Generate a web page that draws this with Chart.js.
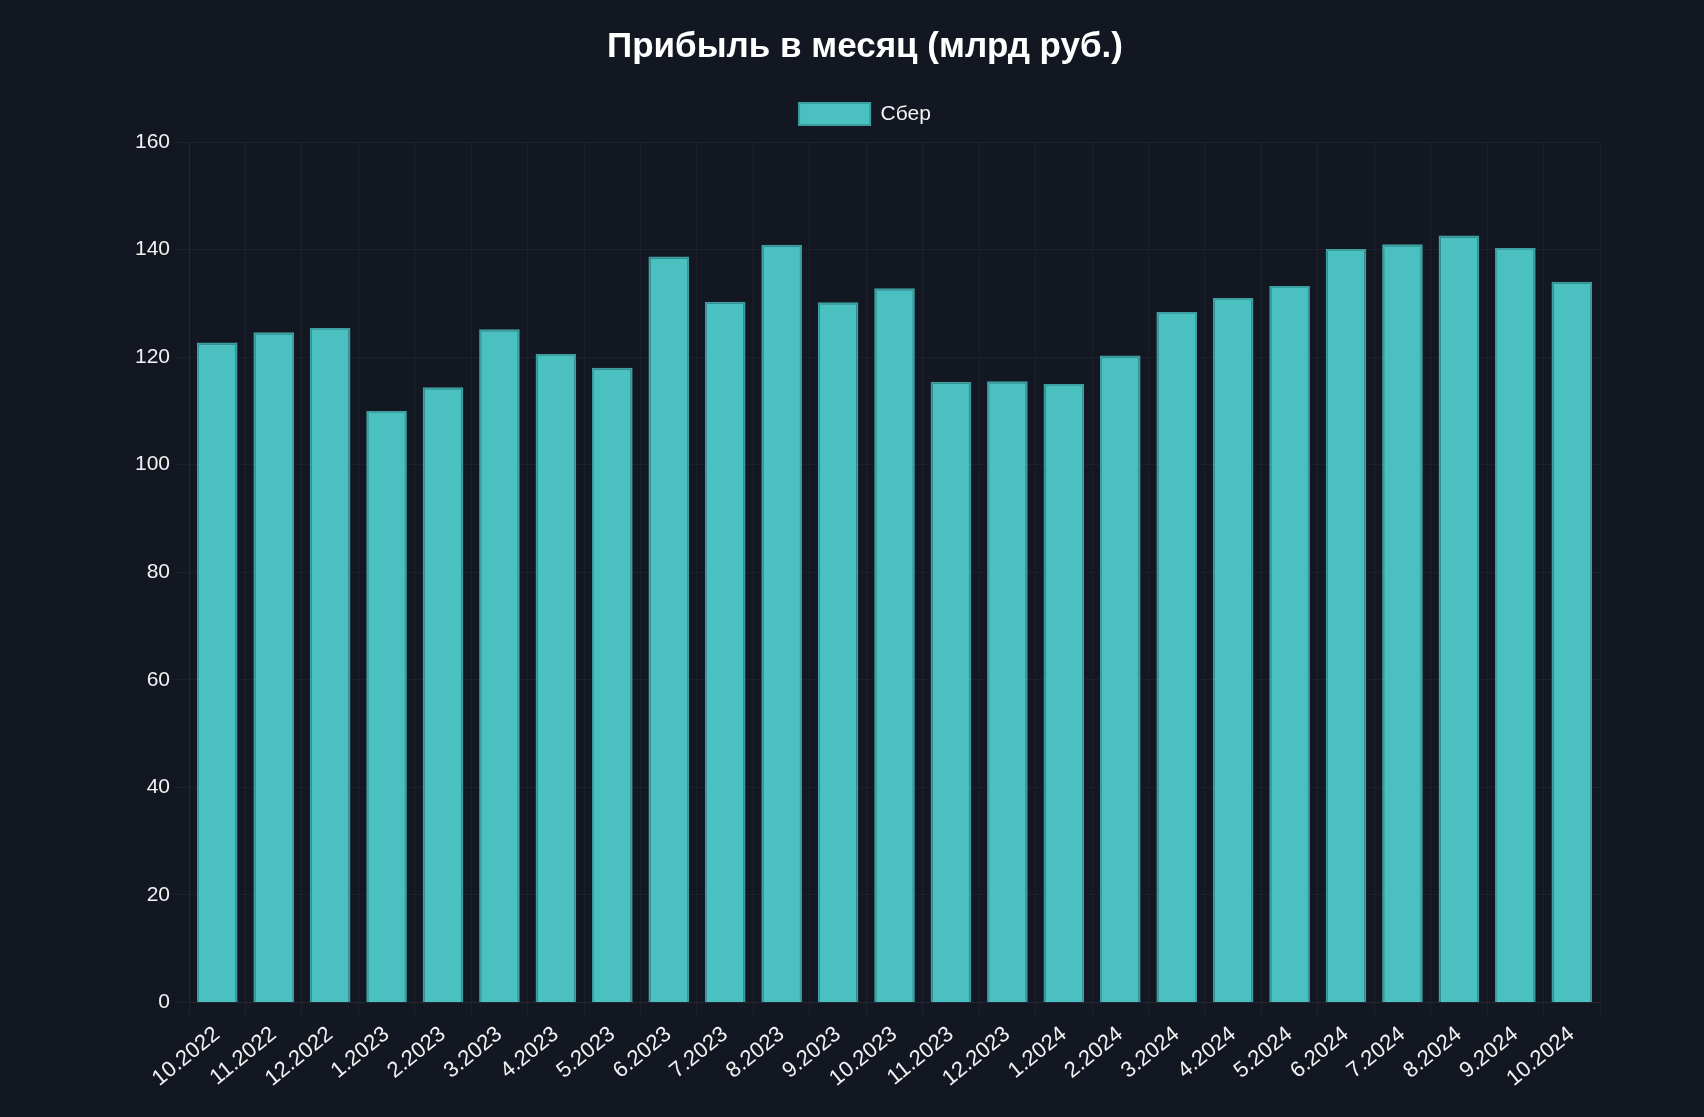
<!DOCTYPE html>
<html lang="ru">
<head>
<meta charset="UTF-8">
<title>Прибыль в месяц</title>
<script src="https://cdn.jsdelivr.net/npm/chart.js@4.4.1/dist/chart.umd.min.js"></script>
<style>
    html, body {
        margin: 0;
        padding: 0;
        background: #131722;
        overflow: hidden;
    }
    #wrap {
        width: 1704px;
        height: 1117px;
    }
</style>
</head>
<body>
<div id="wrap"><canvas id="profitChart"></canvas></div>
<script>
// Months (x axis)
const months = [
    "10.2022", "11.2022", "12.2022", "1.2023", "2.2023", "3.2023", "4.2023",
    "5.2023", "6.2023", "7.2023", "8.2023", "9.2023", "10.2023", "11.2023",
    "12.2023", "1.2024", "2.2024", "3.2024", "4.2024", "5.2024", "6.2024",
    "7.2024", "8.2024", "9.2024", "10.2024"
];

// Monthly profit, bn rub
const sberProfit = [
    122.7, 124.6, 125.4, 110.0, 114.4, 125.2, 120.6,
    118.0, 138.7, 130.3, 140.9, 130.2, 132.8, 115.4,
    115.5, 115.0, 120.3, 128.4, 131.0, 133.2, 140.1,
    141.0, 142.6, 140.3, 134.0
];

const yMin = 0;
const yMax = 160;
const yStep = 20;

// a bit more room under the legend
const legendMargin = {
    id: "legendMargin",
    beforeInit(chart) {
        const origFit = chart.legend.fit;
        chart.legend.fit = function() {
            origFit.bind(chart.legend)();
            this.height += 7;
        };
    }
};

document.addEventListener("DOMContentLoaded", function() {
    const gridColor = "rgba(255, 255, 255, 0.04)";
    const textColor = "#f2f2f2";

    Chart.defaults.font.family = "Arial, 'Liberation Sans', Helvetica, sans-serif";
    Chart.defaults.font.size = 21;
    Chart.defaults.color = textColor;

    const ctx = document.getElementById("profitChart").getContext("2d");

    new Chart(ctx, {
        type: "bar",
        data: {
            labels: months,
            datasets: [{
                label: "Сбер",
                data: sberProfit,
                backgroundColor: "rgb(75, 192, 192)",
                borderColor: "rgb(60, 160, 160)",
                borderWidth: 2
            }]
        },
        options: {
            responsive: true,
            maintainAspectRatio: false,
            animation: false,
            layout: {
                padding: { top: 17, left: 130, right: 104, bottom: 20 }
            },
            plugins: {
                title: {
                    display: true,
                    text: "Прибыль в месяц (млрд руб.)",
                    color: "#ffffff",
                    font: { size: 35, weight: "bold" },
                    padding: { top: 9, bottom: 17 }
                },
                legend: {
                    labels: {
                        boxWidth: 71,
                        boxHeight: 22,
                        padding: 18,
                        color: textColor
                    }
                },
                tooltip: { enabled: false }
            },
            scales: {
                x: {
                    grid: { color: gridColor, tickLength: 14 },
                    border: { color: gridColor },
                    ticks: { color: textColor, font: { size: 22 }, minRotation: 39, maxRotation: 39, padding: 5 }
                },
                y: {
                    min: yMin,
                    max: yMax,
                    grid: { color: gridColor, tickLength: 14 },
                    border: { color: gridColor },
                    ticks: { color: textColor, stepSize: yStep, padding: 5 }
                }
            }
        },
        plugins: [legendMargin]
    });
});
</script>
</body>
</html>
